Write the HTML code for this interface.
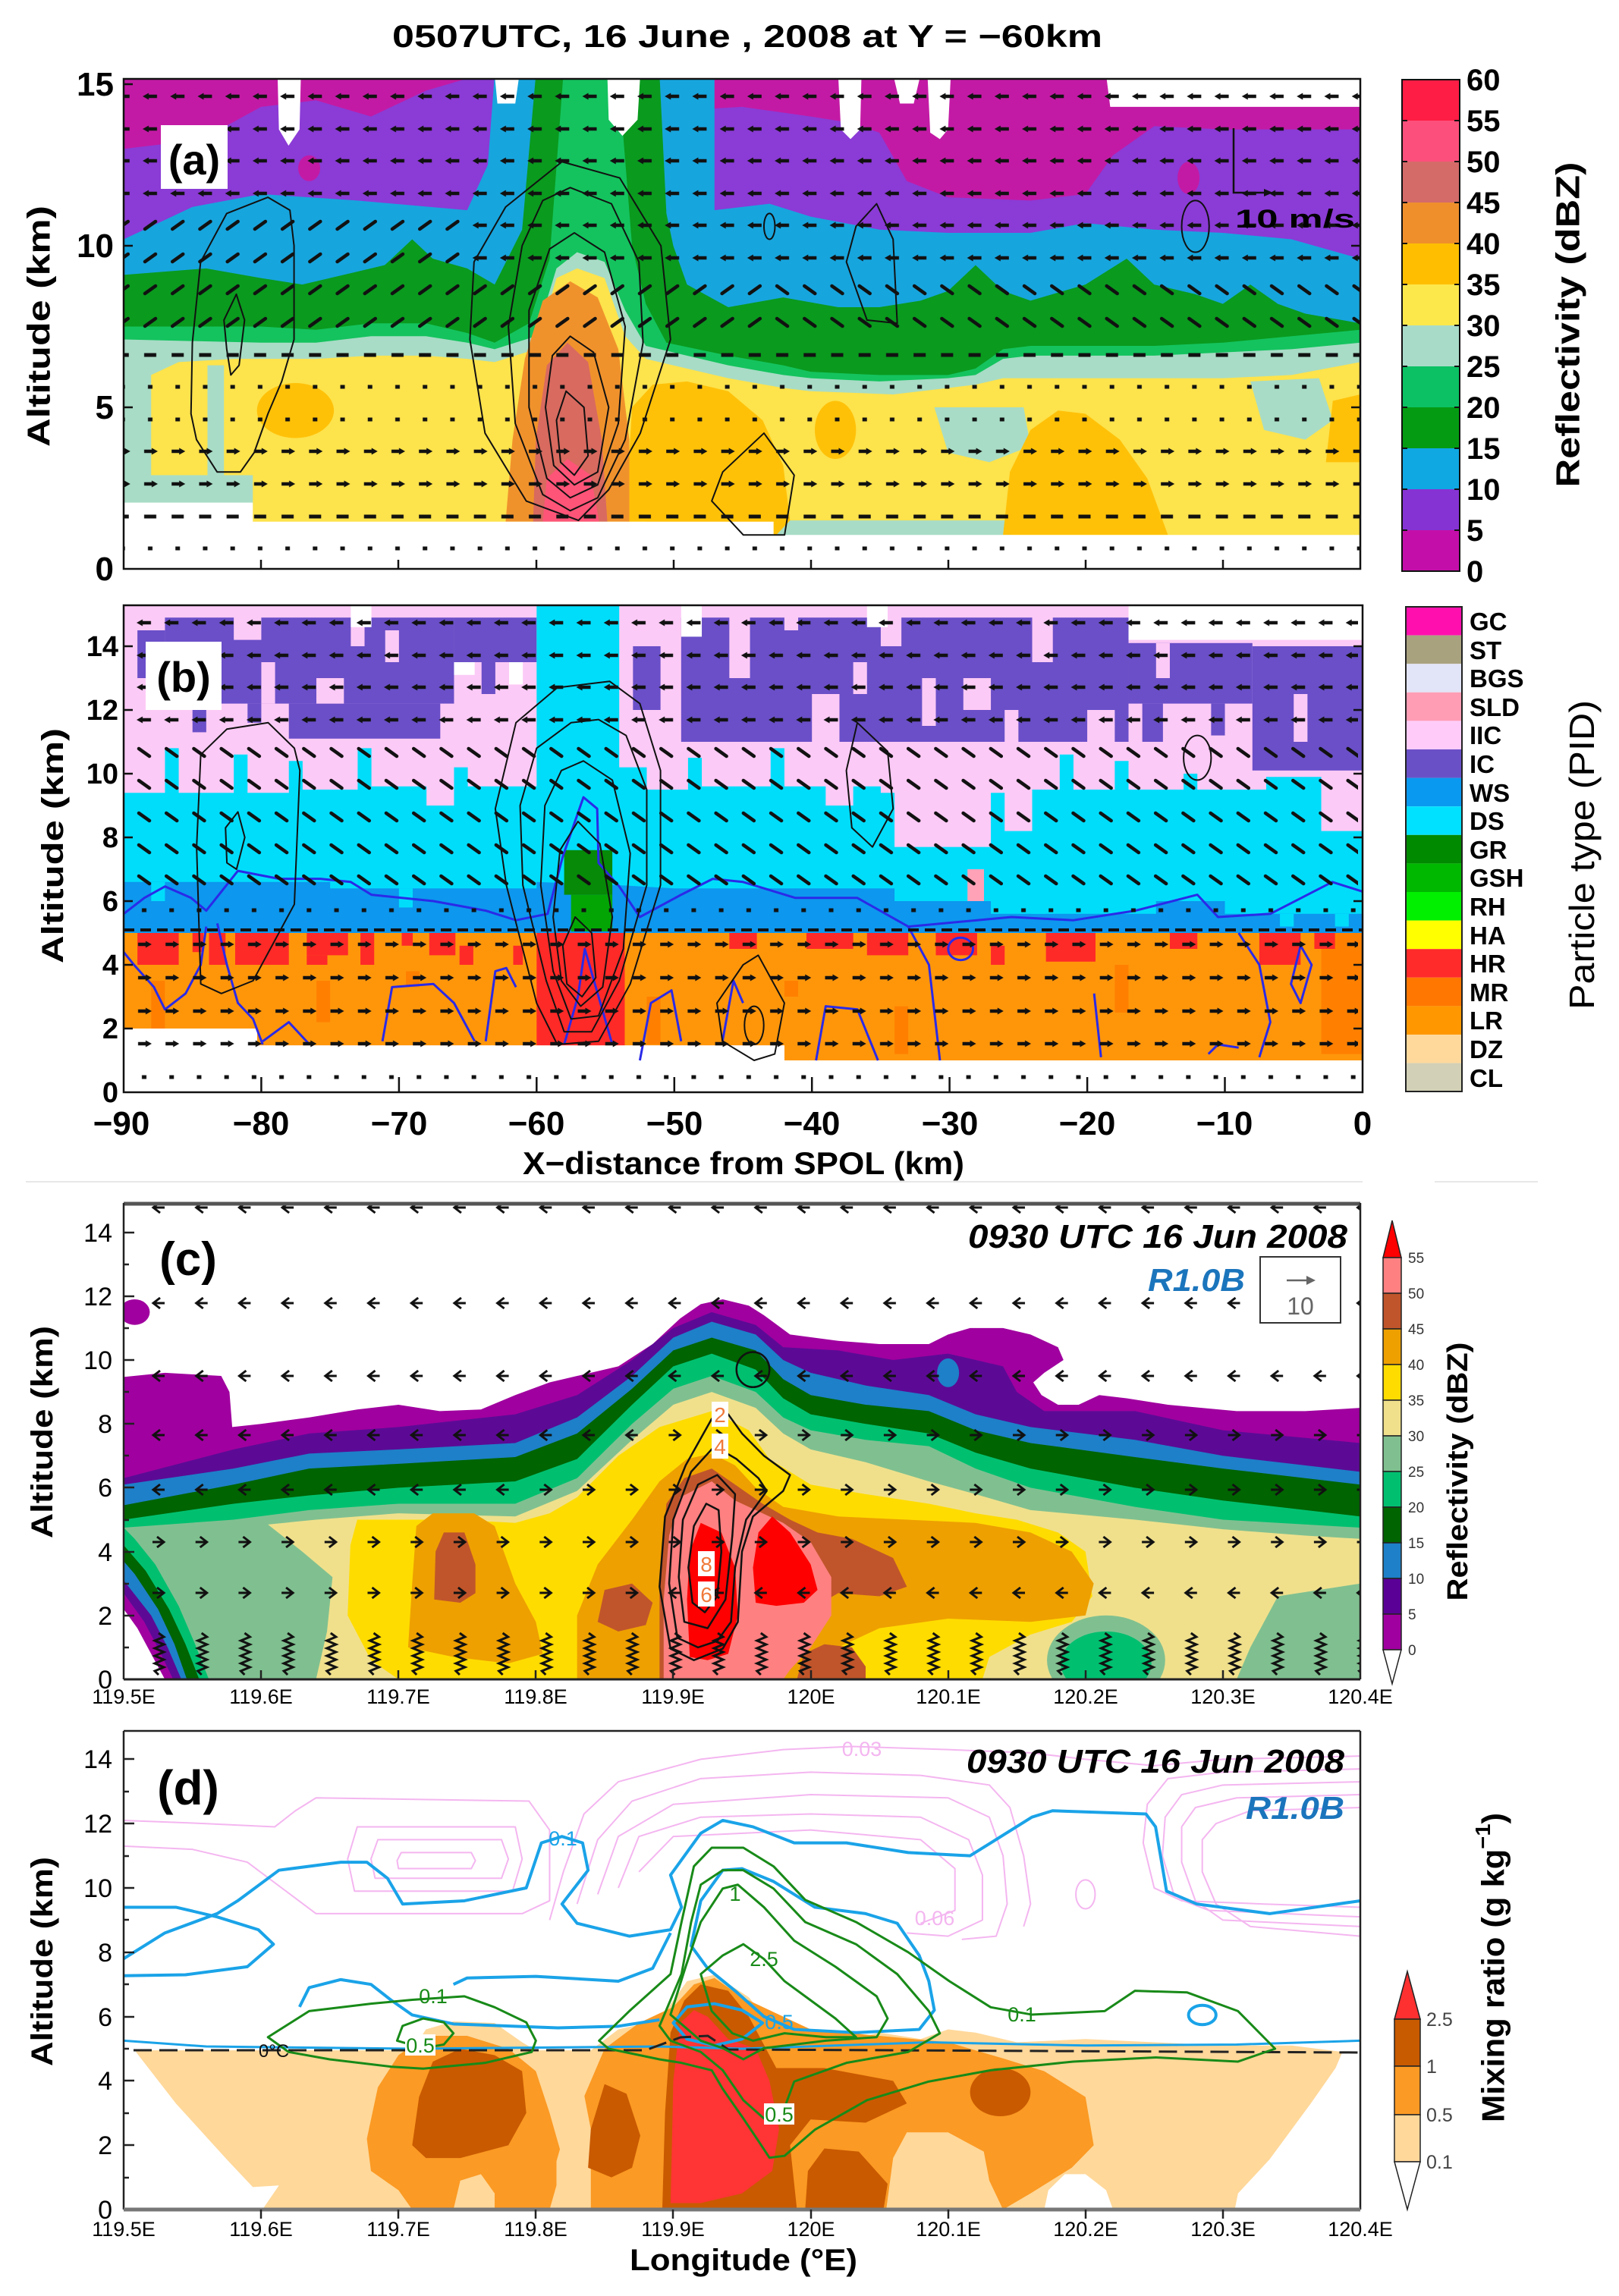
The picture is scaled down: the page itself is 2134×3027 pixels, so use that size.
<!DOCTYPE html>
<html><head><meta charset="utf-8">
<style>
html,body{margin:0;padding:0;background:#fff;}
svg{display:block;}
text{font-family:"Liberation Sans",Arial,sans-serif;}
.nss,.nss *{vector-effect:non-scaling-stroke;}
</style></head><body>
<svg xmlns="http://www.w3.org/2000/svg" width="2134" height="3027" viewBox="0 0 2134 3027">
<defs>
<clipPath id="cA"><rect x="163" y="104" width="1630" height="646"/></clipPath>
<clipPath id="cB"><rect x="163" y="798" width="1633" height="642"/></clipPath>
<clipPath id="cC"><rect x="163" y="1586" width="1630" height="628"/></clipPath>
<clipPath id="cD"><rect x="163" y="2282" width="1630" height="631"/></clipPath>
<pattern id="pL" x="-18.11" y="-10" width="36.22" height="20" patternUnits="userSpaceOnUse"><g transform="translate(18.11,10)"><path d="M-3,0H9" stroke="#111" stroke-width="4.5"/><path d="M-10,0L-2,-4.5L-2,4.5Z" fill="#111"/></g></pattern>
<pattern id="pR" x="-18.11" y="-10" width="36.22" height="20" patternUnits="userSpaceOnUse"><g transform="translate(18.11,10)"><path d="M3,0H-8" stroke="#111" stroke-width="4.5"/><path d="M10,0L2,-4.5L2,4.5Z" fill="#111"/></g></pattern>
<pattern id="pS" x="-18.11" y="-10" width="36.22" height="20" patternUnits="userSpaceOnUse"><g transform="translate(18.11,10)"><path d="M-7,5L7,-5" stroke="#111" stroke-width="4.5" stroke-linecap="round"/></g></pattern>
<pattern id="pB" x="-18.11" y="-10" width="36.22" height="20" patternUnits="userSpaceOnUse"><g transform="translate(18.11,10)"><path d="M-7,-5L7,5" stroke="#111" stroke-width="4.5" stroke-linecap="round"/></g></pattern>
<pattern id="pH" x="-18.11" y="-10" width="36.22" height="20" patternUnits="userSpaceOnUse"><g transform="translate(18.11,10)"><path d="M-8,0H8" stroke="#111" stroke-width="5"/></g></pattern>
<pattern id="pD" x="-18.11" y="-10" width="36.22" height="20" patternUnits="userSpaceOnUse"><g transform="translate(18.11,10)"><rect x="-3" y="-2.5" width="6" height="5" fill="#111"/></g></pattern>
<pattern id="cL" x="-28.35" y="-12" width="56.7" height="24" patternUnits="userSpaceOnUse"><g transform="translate(28.35,12)"><path d="M2,-7L-7,0L2,7M-7,0H8" stroke="#111" stroke-width="3" fill="none"/></g></pattern>
<pattern id="cR" x="-28.35" y="-12" width="56.7" height="24" patternUnits="userSpaceOnUse"><g transform="translate(28.35,12)"><path d="M-2,-7L7,0L-2,7M7,0H-8" stroke="#111" stroke-width="3" fill="none"/></g></pattern>
<pattern id="cZ" x="-28.35" y="0" width="56.7" height="66" patternUnits="userSpaceOnUse"><g transform="translate(28.35,0)"><path d="M0,3l7,5l-12,5l12,5l-12,5l12,5l-12,5l12,5l-12,5l12,5l-12,5l5,5" stroke="#111" stroke-width="3" fill="none"/></g></pattern>
</defs>
<rect width="2134" height="3027" fill="#fff"/>

<!-- TITLE -->
<text x="985" y="62" text-anchor="middle" font-size="42" font-weight="bold" textLength="936" lengthAdjust="spacingAndGlyphs">0507UTC, 16 June , 2008 at Y = −60km</text>

<!-- ================= PANEL A ================= -->
<g clip-path="url(#cA)">
<g transform="translate(163,750) scale(18.111,-42.6)">
<rect x="0" y="0" width="90" height="16" fill="#c31aa5"/>
<polygon fill="#8b3bd6" points="0,0 0,13.0 4,13.2 7,13.6 10,14.3 14,14.5 18,14.0 22,14.8 26,15.3 38,15.3 41,14.2 45,14.3 50,14.0 53,13.8 55,13.5 57,12.0 60,11.5 66,11.4 70,11.6 72,12.8 75,13.7 80,13.6 90,13.6 90,0"/>
<ellipse cx="13.5" cy="12.4" rx="0.8" ry="0.4" fill="#c31aa5"/>
<ellipse cx="40.3" cy="13.2" rx="0.8" ry="0.4" fill="#c31aa5"/>
<ellipse cx="77.5" cy="12.1" rx="0.8" ry="0.5" fill="#c31aa5"/>
<polygon fill="#17a5de" points="0,0 0,10.2 2,10.6 5,11.2 10,11.6 17,11.4 25,11.1 26.5,12.5 27,15.3 43,15.3 43,11.1 47,11.3 50,10.9 55,10.5 60,10.4 66,10.4 70,10.7 75,10.5 80,10.4 85,10.2 90,9.6 90,0"/>
<polygon fill="#0a9a1e" points="0,0 0,9.1 6,9.3 10,9.0 13,8.8 17,9.2 19,9.4 21,10.2 22.5,9.6 25,9.3 27,8.8 29,10.5 30,15.3 39,15.3 39.5,11 40,10 41,8.8 44,8.1 48,8.4 52,8.1 55,8.1 58,8.3 60,8.6 62,9.4 64,8.6 66,8.3 70,8.8 73,9.6 75,8.8 78,8.5 80,8.2 82,8.8 84,8.2 86,7.9 90,7.6 90,0"/>
<polygon fill="#14c35e" points="0,0 0,7.5 10,7.5 14,7.4 18,7.6 22,7.6 25,7.3 27,7.0 29.5,7.6 31,9.6 32,15.3 36,15.3 37,10 38,8.2 39.5,7.0 44,6.6 48,6.3 50,6.1 55,6.0 60,6.0 62,6.2 64,6.8 66,6.9 75,6.9 80,7.0 85,7.2 90,7.4 90,0"/>
<polygon fill="#a8dcc6" points="0,0 0,7.1 10,7.0 14,7.0 18,7.2 22,7.2 25,7.0 27,6.8 30,7.2 31.5,9.3 33,9.8 35,9.5 36.5,8.0 38,6.9 44,6.3 48,6.0 50,5.9 55,5.8 60,5.9 62,6.0 64,6.5 66,6.6 75,6.6 85,6.8 90,7.0 90,0"/>
<polygon fill="#fde34c" points="2,0 2,6.0 4,6.4 8,6.5 14,6.5 18,6.6 22,6.6 25,6.5 27,6.4 30,6.8 31.5,9.0 33,9.3 35,9.0 36.5,7.2 38,6.5 44,5.9 48,5.6 50,5.5 56,5.4 60,5.6 62,5.7 64,5.9 67,5.9 75,5.9 80,5.9 85,6.0 90,6.4 90,0"/>
<rect x="6.1" y="2" width="1.2" height="4.3" fill="#a8dcc6"/>
<rect x="0" y="1.9" width="9.4" height="1.0" fill="#a8dcc6"/>
<polygon fill="#a8dcc6" points="59,5.0 60,3.6 63,3.3 66,3.8 65.5,5.0"/>
<polygon fill="#a8dcc6" points="82,5.8 83,4.3 86,4.0 88,4.6 87,5.9"/>
<rect x="47.3" y="1.0" width="17.3" height="0.5" fill="#a8dcc6"/>
<ellipse cx="12.5" cy="4.9" rx="2.8" ry="0.85" fill="#ffc108"/>
<polygon fill="#ffc108" points="36.5,1.46 37,5.0 38.5,5.7 41,5.8 44,5.5 46.5,4.6 48,3.2 48.5,1.5 47.5,1.05 40,1.05 38,1.46"/>
<ellipse cx="51.8" cy="4.3" rx="1.5" ry="0.9" fill="#ffc108"/>
<polygon fill="#ffc108" points="64,1.05 64.5,3.0 66,4.3 68,4.9 70,4.8 72.5,4.0 74.5,2.8 76,1.05"/>
<polygon fill="#ffc108" points="87.5,3.3 88,5.2 90,5.4 90,3.3"/>
<polygon fill="#f0922c" points="27.8,1.46 28.3,4 29.2,6.5 30.5,8.3 32.5,8.9 34.5,8.4 36,6.8 36.8,4 36.8,1.46"/>
<polygon fill="#d86a60" points="29.8,1.46 30,4 30.8,6.3 32.3,7.0 33.8,6.4 34.8,4 35.2,1.46"/>
<polygon fill="#fe5478" points="30.5,1.46 30.8,2.8 32.3,3.4 34,2.9 34.6,1.46"/>
<polygon fill="#fff" points="0,-1 0,2.05 9.4,2.05 9.4,1.46 47.3,1.46 47.3,1.05 90,1.05 90,-1"/>
<polygon fill="#fff" points="11.2,15.3 11.3,13.6 12.0,13.1 12.8,13.6 12.9,15.3"/>
<polygon fill="#fff" points="27,15.3 27.2,14.4 28.5,14.4 28.8,15.3"/>
<polygon fill="#fff" points="35.2,15.3 35.3,13.9 36.3,13.4 37.4,13.9 37.6,15.3"/>
<polygon fill="#fff" points="52,15.3 52.2,13.6 52.9,13.3 53.6,13.6 53.7,15.3"/>
<polygon fill="#fff" points="56,15.3 56.5,14.4 57.5,14.4 58,15.3"/>
<polygon fill="#fff" points="58.5,15.3 58.7,13.5 59.4,13.3 60,13.6 60.2,15.3"/>
<polygon fill="#fff" points="71.5,15.3 71.8,14.3 90,14.3 90,15.3"/>
</g>
<g class="nss" transform="translate(163,750) scale(18.111,-42.6)" fill="none" stroke="#111" stroke-width="2" stroke-linejoin="round">
<polygon points="6.8,3.0 5.3,4.0 4.9,4.8 5.0,7.0 5.6,9.5 7.5,11.0 10.5,11.5 12.1,11.1 12.4,10.0 12.4,7.1 11.5,5.8 10.5,4.8 9.5,3.6 8.5,3.0"/>
<polygon points="7.5,6.8 7.3,7.7 8.2,8.5 8.8,7.7 8.4,6.3 7.8,6.0"/>
<polygon points="25.5,9.5 27.8,11.2 31.9,12.6 36.1,12.1 39.1,10.0 39.8,7.1 37.6,4.2 35.3,2.45 33.1,1.5 29.3,2.1 26.3,4.2 25.2,7.1"/>
<polygon points="32.5,11.8 35.5,11.3 37.5,9.5 37.8,7 36.5,4 34.5,2.2 32.5,1.8 30.5,2.3 28.5,4.5 28,7.5 29,10 30.5,11.4"/>
<polygon points="32.8,10.4 35,9.8 36.5,7.5 36,4.5 34.5,2.6 32.5,2.2 30.8,2.8 29.5,5 29.5,8 31,9.9"/>
<polygon points="32.5,7.2 34.2,6.7 35.3,5.0 34.5,3.0 32.8,2.6 31.3,3.2 30.7,5.0 31.2,6.6"/>
<polygon points="32.2,5.5 33.5,5.0 33.8,3.5 32.8,2.9 31.8,3.3 31.5,4.6"/>
<polygon points="43.6,3.0 46.6,4.2 48.8,2.9 48.1,1.05 45.1,1.05 42.8,2.1"/>
<polygon points="53.3,10.6 54.8,11.3 56,10.2 56.3,7.6 54.1,7.7 52.6,9.5"/>
<ellipse cx="78" cy="10.6" rx="1" ry="0.8"/>
<ellipse cx="47" cy="10.6" rx="0.4" ry="0.4"/>
</g>
<g transform="translate(198,127)"><rect x="-40" y="-10" width="1640" height="20" fill="url(#pL)"/></g>
<g transform="translate(198,170)"><rect x="-40" y="-10" width="1640" height="20" fill="url(#pL)"/></g>
<g transform="translate(198,212)"><rect x="-40" y="-10" width="1640" height="20" fill="url(#pL)"/></g>
<g transform="translate(198,255)"><rect x="-40" y="-10" width="1640" height="20" fill="url(#pL)"/></g>
<g transform="translate(198,297)"><rect x="-40" y="-10" width="456.5" height="20" fill="url(#pS)"/><rect x="416.5" y="-10" width="1200" height="20" fill="url(#pL)"/></g>
<g transform="translate(198,340)"><rect x="-40" y="-10" width="456.5" height="20" fill="url(#pS)"/><rect x="416.5" y="-10" width="1200" height="20" fill="url(#pL)"/></g>
<g transform="translate(198,382)"><rect x="-40" y="-10" width="854" height="20" fill="url(#pS)"/><rect x="814" y="-10" width="800" height="20" fill="url(#pB)"/></g>
<g transform="translate(198,425)"><rect x="-40" y="-10" width="854" height="20" fill="url(#pS)"/><rect x="814" y="-10" width="800" height="20" fill="url(#pB)"/></g>
<g transform="translate(198,468)"><rect x="-40" y="-10" width="1640" height="20" fill="url(#pH)"/></g>
<g transform="translate(198,510)"><rect x="-40" y="-10" width="1640" height="20" fill="url(#pD)"/></g>
<g transform="translate(198,553)"><rect x="-40" y="-10" width="1640" height="20" fill="url(#pD)"/></g>
<g transform="translate(198,595)"><rect x="-40" y="-10" width="1640" height="20" fill="url(#pR)"/></g>
<g transform="translate(198,638)"><rect x="-40" y="-10" width="1640" height="20" fill="url(#pR)"/></g>
<g transform="translate(198,681)"><rect x="-40" y="-10" width="1640" height="20" fill="url(#pH)"/></g>
<g transform="translate(198,723)"><rect x="-40" y="-10" width="1640" height="20" fill="url(#pD)"/></g>
</g>
<rect x="212" y="165" width="88" height="84" fill="#fff"/>
<text x="256" y="230" text-anchor="middle" font-size="56" font-weight="bold">(a)</text>
<path d="M1626,169V254H1668" fill="none" stroke="#111" stroke-width="2.5"/>
<path d="M1678,254L1666,249L1666,259Z" fill="#111"/>
<text x="1628" y="300" font-size="34" font-weight="bold" textLength="158" lengthAdjust="spacingAndGlyphs">10 m/s</text>
<rect x="163" y="104" width="1630" height="646" fill="none" stroke="#111" stroke-width="2.5"/>
<g stroke="#111" stroke-width="2.5">
<path d="M344,750v-12M525,750v-12M707,750v-12M888,750v-12M1069,750v-12M1250,750v-12M1431,750v-12M1612,750v-12"/>
<path d="M163,537h12M163,324h12M163,111h12M1793,537h-12M1793,324h-12"/>
</g>
<g font-size="44" font-weight="bold" text-anchor="end">
<text x="150" y="126">15</text><text x="150" y="339">10</text><text x="150" y="552">5</text><text x="150" y="765">0</text>
</g>
<text transform="translate(51,430) rotate(-90)" text-anchor="middle" dominant-baseline="central" font-size="42" font-weight="bold" textLength="318" lengthAdjust="spacingAndGlyphs">Altitude (km)</text>
<g>
<rect x="1848" y="105" width="76" height="54" fill="#fe1d45"/>
<rect x="1848" y="159" width="76" height="54" fill="#fd4f7b"/>
<rect x="1848" y="213" width="76" height="54" fill="#d46b69"/>
<rect x="1848" y="267" width="76" height="54" fill="#ef8f2c"/>
<rect x="1848" y="321" width="76" height="54" fill="#ffbf00"/>
<rect x="1848" y="375" width="76" height="54" fill="#fde84c"/>
<rect x="1848" y="429" width="76" height="54" fill="#a9dbc9"/>
<rect x="1848" y="483" width="76" height="54" fill="#0cc163"/>
<rect x="1848" y="537" width="76" height="54" fill="#049b13"/>
<rect x="1848" y="591" width="76" height="54" fill="#0fa8e2"/>
<rect x="1848" y="645" width="76" height="54" fill="#8633d4"/>
<rect x="1848" y="699" width="76" height="54" fill="#c30ea9"/>
<rect x="1848" y="105" width="76" height="648" fill="none" stroke="#111" stroke-width="2"/>
<path d="M1848,159h7M1848,213h7M1848,267h7M1848,321h7M1848,375h7M1848,429h7M1848,483h7M1848,537h7M1848,591h7M1848,645h7M1848,699h7M1924,159h-7M1924,213h-7M1924,267h-7M1924,321h-7M1924,375h-7M1924,429h-7M1924,483h-7M1924,537h-7M1924,591h-7M1924,645h-7M1924,699h-7" stroke="#111" stroke-width="2"/>
</g>
<g font-size="40" font-weight="bold">
<text x="1933" y="119">60</text><text x="1933" y="173">55</text><text x="1933" y="227">50</text><text x="1933" y="281">45</text><text x="1933" y="335">40</text><text x="1933" y="389">35</text><text x="1933" y="443">30</text><text x="1933" y="497">25</text><text x="1933" y="551">20</text><text x="1933" y="605">15</text><text x="1933" y="659">10</text><text x="1933" y="713">5</text><text x="1933" y="767">0</text>
</g>
<text transform="translate(2067,428) rotate(-90)" text-anchor="middle" dominant-baseline="central" font-size="44" font-weight="bold" textLength="429" lengthAdjust="spacingAndGlyphs">Reflectivity (dBZ)</text>

<!-- ================= PANEL B ================= -->
<g clip-path="url(#cB)">
<g transform="translate(163,1440) scale(18.144,-42.0)">
<rect x="0" y="1" width="90" height="15" fill="#fccaf6"/>
<g fill="#6a4fc8">
<rect x="3" y="12.2" width="21" height="2.8"/>
<rect x="12" y="11.1" width="11" height="1.1"/>
<rect x="24" y="13.5" width="6" height="1.5"/>
<rect x="40.5" y="11.0" width="32.5" height="4.0"/>
<rect x="73" y="12.2" width="9" height="1.9"/>
<rect x="82" y="10.1" width="8" height="3.9"/>
<rect x="1" y="13" width="2" height="1.5"/>
<rect x="5" y="11.3" width="1" height="0.9"/>
<rect x="30.5" y="14.2" width="1" height="0.8"/>
<rect x="37" y="12" width="2" height="2"/>
<rect x="74" y="11" width="1.5" height="1.2"/>
<rect x="79" y="11.2" width="1" height="1"/>
<rect x="26" y="12.5" width="1" height="1"/>
<rect x="9" y="11.6" width="1" height="0.6"/>
</g>
<g fill="#fccaf6">
<rect x="8" y="14.2" width="2" height="0.8"/><rect x="14" y="12.2" width="2" height="0.8"/><rect x="19" y="13.5" width="1" height="1"/><rect x="6" y="12.8" width="1" height="1"/><rect x="10" y="12.2" width="1" height="1.3"/><rect x="16.5" y="14" width="1" height="1"/>
<rect x="44" y="13" width="1.5" height="2"/><rect x="50" y="11" width="2" height="1.5"/><rect x="55" y="14" width="1.5" height="1"/><rect x="61" y="12" width="2" height="1"/><rect x="66" y="13.5" width="1.5" height="1.5"/><rect x="70" y="11" width="2" height="1"/><rect x="48" y="14.5" width="1" height="0.5"/><rect x="58" y="11.5" width="1" height="1.5"/><rect x="64" y="11" width="1" height="1"/><rect x="53" y="12.5" width="1" height="1"/><rect x="75" y="13" width="1" height="1.1"/><rect x="85" y="11" width="1" height="1.5"/>
<rect x="0" y="14.9" width="90" height="0.5"/>
</g>
<g fill="#fff">
<rect x="73" y="14.2" width="17" height="1.2"/><rect x="28" y="12.8" width="1" height="0.7"/><rect x="24" y="13.1" width="1.5" height="0.4"/><rect x="16.5" y="14.6" width="1.5" height="0.8"/><rect x="40.5" y="14.3" width="1.5" height="1"/><rect x="54" y="14.6" width="1.5" height="0.8"/>
</g>
<polygon fill="#00ddfb" points="0,5 0,9.4 3,9.4 3,10.8 4,10.8 4,9.4 8,9.4 8,10.6 9,10.6 9,9.4 12,9.4 12,10.4 13,10.4 13,9.5 17,9.5 17,10.8 18,10.8 18,9.6 22,9.6 22,9.0 24,9.0 24,10.2 25,10.2 25,9.6 30,9.6 30,15.4 36,15.4 36,10.2 38,10.2 38,9.5 41,9.5 41,10.5 42,10.5 42,9.6 47,9.6 47,10.8 48,10.8 48,9.6 51,9.6 51,9.0 53,9.0 53,9.6 55,9.6 55,9.4 56,9.4 56,7.7 63,7.7 63,9.4 64,9.4 64,8.2 66,8.2 66,9.5 68,9.5 68,10.6 69,10.6 69,9.5 72,9.5 72,10.4 73,10.4 73,9.5 77,9.5 77,10.0 78,10.0 78,9.5 83,9.5 83,9.9 87,9.9 87,8.2 90,8.2 90,5"/>
<polygon fill="#0d97ee" points="0,5.0 0,6.6 15,6.6 15,6.4 30,6.4 30,6.6 36,6.5 40,6.4 56,6.4 56,6.0 63,6.0 63,5.6 75,5.6 75,6.0 80,6.0 80,5.6 90,5.6 90,5.0"/>
<g fill="#00ddfb"><rect x="2" y="6.0" width="1" height="0.6"/><rect x="20" y="5.8" width="1" height="0.6"/><rect x="66" y="5.6" width="1" height="0.5"/><rect x="84" y="5.2" width="1" height="0.4"/><rect x="88" y="5.2" width="1" height="0.4"/></g>
<rect x="32" y="6.2" width="3.5" height="1.4" fill="#078a07"/>
<rect x="32.5" y="5.05" width="3" height="1.15" fill="#03a505"/>
<rect x="61.3" y="6.0" width="1.2" height="1.0" fill="#ffa2b8"/>
<polygon fill="#ff960a" points="0,2.0 9.7,2.0 9.7,1.47 48,1.47 48,1.0 90,1.0 90,5.0 0,5.0"/>
<g fill="#ff8000">
<rect x="2" y="2" width="1" height="1.5"/><rect x="14" y="2.2" width="1" height="1.3"/><rect x="38" y="1.5" width="1" height="1.5"/><rect x="56" y="1.2" width="1" height="1.5"/><rect x="72" y="2.5" width="1" height="1.5"/><rect x="20.5" y="3.3" width="1" height="0.5"/><rect x="48" y="3" width="1" height="0.5"/><rect x="87" y="1.2" width="3" height="3.8"/>
</g>
<g fill="#fe2a28">
<rect x="1" y="4.0" width="3" height="1.0"/><rect x="5" y="4.4" width="0.8" height="0.6"/><rect x="6.2" y="4.0" width="1.2" height="1.0"/><rect x="8.1" y="4.0" width="3.9" height="1.0"/><rect x="13.3" y="4.3" width="3" height="0.7"/><rect x="13.3" y="4.0" width="1.5" height="0.3"/><rect x="17.2" y="4.0" width="1" height="1.0"/><rect x="20.2" y="4.6" width="0.8" height="0.4"/><rect x="22.2" y="4.3" width="1.9" height="0.7"/><rect x="24.4" y="4.0" width="1" height="0.6"/><rect x="28.3" y="4.0" width="0.7" height="0.6"/>
<rect x="30" y="1.47" width="6.4" height="3.53"/><rect x="44" y="4.5" width="2" height="0.5"/><rect x="49.6" y="4.5" width="3.4" height="0.5"/><rect x="54" y="4.3" width="3" height="0.7"/><rect x="59" y="4.3" width="3" height="0.7"/><rect x="63" y="4.0" width="1" height="0.6"/><rect x="67" y="4.1" width="3.6" height="0.9"/><rect x="76" y="4.5" width="2" height="0.5"/><rect x="82.5" y="4.0" width="3" height="1.0"/><rect x="86.5" y="4.5" width="1.5" height="0.5"/>
</g>
<polygon fill="#fff" points="0,-1 0,2.0 9.7,2.0 9.7,1.47 48,1.47 48,1.0 90,1.0 90,-1"/>
</g>
<g class="nss" transform="translate(163,1440) scale(18.144,-42.0)" fill="none" stroke="#2a2ae8" stroke-width="3" stroke-linejoin="round">
<polyline points="0,5.6 1.5,6.1 3,6.46 4.9,6.1 6,5.7 8.3,6.95 11.3,6.7 14.3,6.7 16.5,6.6 18,6.2 22.5,6.0 26.3,5.7 28.5,5.4 30.8,5.6 31.9,7.4 33.4,9.26 34.4,8.9 34.5,7.2 36,6.46 37.5,5.5 40.5,6.2 42.8,6.7 45,6.6 48.8,6.1 53.3,6.1 57,5.2 64.5,5.5 69,5.4 73.5,5.7 78,6.2 79.5,5.5 83.3,5.6 87.8,6.6 90,6.3"/>
<polyline points="0,4.4 0.75,4.0 2.2,3.3 3,2.6 4.5,3.1 5.6,4.0 6,5.2"/>
<polyline points="10.1,1.5 9.4,2.3 8.3,2.8 7.5,4.0 6.8,5.3"/>
<polyline points="10.1,1.6 12,2.2 13.5,1.5"/>
<polyline points="18.8,1.6 19.5,3.3 22.5,3.4 24,2.8 25.5,1.6"/>
<polyline points="26.3,1.6 27,3.8 27.8,3.9 28.5,3.3"/>
<polyline points="37.5,1.0 38.3,2.8 39.8,3.2 40.5,1.6"/>
<polyline points="43.5,1.6 44.3,3.5 45,2.8"/>
<polyline points="50.3,1.0 51,2.7 53.3,2.6 54.8,1.0"/>
<polyline points="57,5.2 58.5,4.0 59.3,1.0"/>
<ellipse cx="60.8" cy="4.5" rx="0.9" ry="0.35"/>
<polyline points="70.5,3.1 71,1.1"/>
<polyline points="81,5.0 82.5,4.0 83.3,2.2 82.5,1.1"/>
<polyline points="78.8,1.2 79.5,1.5 81,1.4"/>
<polygon points="84.8,3.4 85.5,4.6 86.3,4.0 85.5,2.8"/>
<polyline points="32,1.5 33,3 33.5,4.5 34.5,3.0 35.5,1.5"/>
</g>
<g class="nss" transform="translate(163,1440) scale(18.144,-42.0)" fill="none" stroke="#111" stroke-width="2" stroke-linejoin="round">
<polygon points="5.6,3.4 5.3,7.7 5.6,10.6 7.5,11.4 10.5,11.6 12.4,10.8 12.8,10.1 12.4,5.9 9.4,3.5 7.1,3.1"/>
<polygon points="7.5,7.2 7.4,8.3 8.3,8.8 8.8,8.0 8.2,7.0"/>
<polygon points="35.3,12.9 37.5,12.2 39,10.1 39,6.5 36.8,3.4 34.5,1.6 31.5,1.5 30,2.8 27.8,6.5 27,8.9 28.5,11.6 31.5,12.7"/>
<polygon points="34.5,11.7 36.5,11.2 38,9.5 38,6.5 36,3.5 34,1.9 32,1.9 30.7,3.5 29,6.5 28.8,9.0 30,10.8 32.5,11.6"/>
<polygon points="33.4,10.4 35.5,9.8 36.8,7.5 36.3,4.5 34.5,2.4 32.5,2.3 31.2,3.8 30.3,6.5 30.6,9.0 31.8,10.1"/>
<polygon points="33,8.5 34.6,7.8 35.5,5.5 34.8,3.3 33.2,2.7 31.8,3.5 31.2,5.5 31.7,7.6"/>
<polygon points="32.8,5.5 34,5.0 34.3,3.6 33.3,3.0 32.2,3.4 31.9,4.6"/>
<polygon points="43.1,2.8 45,4.0 46.1,4.3 48,2.8 47.3,1.2 45.8,1.0 43.5,1.6"/>
<ellipse cx="45.8" cy="2.1" rx="0.7" ry="0.6"/>
<polygon points="53.3,11.6 55.5,10.7 55.9,8.9 54.4,7.7 52.9,8.3 52.5,10.1"/>
<ellipse cx="78" cy="10.5" rx="1.0" ry="0.7"/>
</g>
<path d="M163,1226H1796" stroke="#111" stroke-width="4" stroke-dasharray="14 8"/>
<g transform="translate(190,821)"><rect x="-40" y="-10" width="1640" height="20" fill="url(#pL)"/></g>
<g transform="translate(190,864)"><rect x="-40" y="-10" width="1640" height="20" fill="url(#pL)"/></g>
<g transform="translate(190,906)"><rect x="-40" y="-10" width="1640" height="20" fill="url(#pL)"/></g>
<g transform="translate(190,949)"><rect x="-40" y="-10" width="1640" height="20" fill="url(#pL)"/></g>
<g transform="translate(190,992)"><rect x="-40" y="-10" width="1640" height="20" fill="url(#pB)"/></g>
<g transform="translate(190,1034)"><rect x="-40" y="-10" width="1640" height="20" fill="url(#pB)"/></g>
<g transform="translate(190,1077)"><rect x="-40" y="-10" width="1640" height="20" fill="url(#pB)"/></g>
<g transform="translate(190,1119)"><rect x="-40" y="-10" width="1640" height="20" fill="url(#pB)"/></g>
<g transform="translate(190,1160)"><rect x="-40" y="-10" width="1640" height="20" fill="url(#pB)"/></g>
<g transform="translate(190,1200)"><rect x="-40" y="-10" width="1640" height="20" fill="url(#pD)"/></g>
<g transform="translate(190,1245)"><rect x="-40" y="-10" width="1640" height="20" fill="url(#pR)"/></g>
<g transform="translate(190,1289)"><rect x="-40" y="-10" width="1640" height="20" fill="url(#pR)"/></g>
<g transform="translate(190,1333)"><rect x="-40" y="-10" width="1640" height="20" fill="url(#pR)"/></g>
<g transform="translate(190,1376)"><rect x="-40" y="-10" width="1640" height="20" fill="url(#pR)"/></g>
<g transform="translate(190,1420)"><rect x="-40" y="-10" width="1640" height="20" fill="url(#pD)"/></g>
</g>
<rect x="192" y="846" width="100" height="90" fill="#fff"/>
<text x="242" y="912" text-anchor="middle" font-size="56" font-weight="bold">(b)</text>
<rect x="163" y="798" width="1633" height="642" fill="none" stroke="#111" stroke-width="2.5"/>
<g stroke="#111" stroke-width="2.5">
<path d="M344.4,1440v-20M525.9,1440v-20M707.3,1440v-20M888.8,1440v-20M1070.2,1440v-20M1251.6,1440v-20M1433.1,1440v-20M1614.5,1440v-20"/>
<path d="M163,1356h12M163,1272h12M163,1188h12M163,1104h12M163,1020h12M163,936h12M163,852h12M1796,1356h-12M1796,1272h-12M1796,1188h-12M1796,1104h-12M1796,1020h-12M1796,936h-12M1796,852h-12"/>
</g>
<g font-size="38" font-weight="bold" text-anchor="end">
<text x="156" y="1453">0</text><text x="156" y="1369">2</text><text x="156" y="1285">4</text><text x="156" y="1201">6</text><text x="156" y="1117">8</text><text x="156" y="1033">10</text><text x="156" y="949">12</text><text x="156" y="865">14</text>
</g>
<g font-size="44" font-weight="bold" text-anchor="middle">
<text x="160" y="1496">−90</text><text x="344" y="1496">−80</text><text x="526" y="1496">−70</text><text x="707" y="1496">−60</text><text x="889" y="1496">−50</text><text x="1070" y="1496">−40</text><text x="1252" y="1496">−30</text><text x="1433" y="1496">−20</text><text x="1614" y="1496">−10</text><text x="1796" y="1496">0</text>
</g>
<text x="980" y="1548" text-anchor="middle" font-size="42" font-weight="bold" textLength="582" lengthAdjust="spacingAndGlyphs">X−distance from SPOL (km)</text>
<text transform="translate(70,1115) rotate(-90)" text-anchor="middle" dominant-baseline="central" font-size="40" font-weight="bold" textLength="310" lengthAdjust="spacingAndGlyphs">Altitude (km)</text>
<g>
<rect x="1853" y="800" width="74" height="37.6" fill="#ff10ae"/>
<rect x="1853" y="837.6" width="74" height="37.6" fill="#a9a27f"/>
<rect x="1853" y="875.2" width="74" height="37.6" fill="#e2e4f7"/>
<rect x="1853" y="912.8" width="74" height="37.6" fill="#ff9db5"/>
<rect x="1853" y="950.4" width="74" height="37.6" fill="#ffccf9"/>
<rect x="1853" y="988" width="74" height="37.6" fill="#6a50c7"/>
<rect x="1853" y="1025.6" width="74" height="37.6" fill="#0a99f0"/>
<rect x="1853" y="1063.2" width="74" height="37.6" fill="#00e1ff"/>
<rect x="1853" y="1100.8" width="74" height="37.6" fill="#008a00"/>
<rect x="1853" y="1138.4" width="74" height="37.6" fill="#00b800"/>
<rect x="1853" y="1176" width="74" height="37.6" fill="#00f000"/>
<rect x="1853" y="1213.6" width="74" height="37.6" fill="#ffff00"/>
<rect x="1853" y="1251.2" width="74" height="37.6" fill="#ff2a2a"/>
<rect x="1853" y="1288.8" width="74" height="37.6" fill="#ff7700"/>
<rect x="1853" y="1326.4" width="74" height="37.6" fill="#ff9800"/>
<rect x="1853" y="1364" width="74" height="37.6" fill="#ffd99c"/>
<rect x="1853" y="1401.6" width="74" height="37.6" fill="#d2d0b6"/>
<rect x="1853" y="800" width="74" height="639" fill="none" stroke="#222" stroke-width="2"/>
</g>
<g font-size="33" font-weight="bold">
<text x="1937" y="831">GC</text><text x="1937" y="869">ST</text><text x="1937" y="906">BGS</text><text x="1937" y="944">SLD</text><text x="1937" y="981">IIC</text><text x="1937" y="1019">IC</text><text x="1937" y="1057">WS</text><text x="1937" y="1094">DS</text><text x="1937" y="1132">GR</text><text x="1937" y="1169">GSH</text><text x="1937" y="1207">RH</text><text x="1937" y="1245">HA</text><text x="1937" y="1282">HR</text><text x="1937" y="1320">MR</text><text x="1937" y="1357">LR</text><text x="1937" y="1395">DZ</text><text x="1937" y="1433">CL</text>
</g>
<text transform="translate(2085,1127) rotate(-90)" text-anchor="middle" dominant-baseline="central" font-size="46" textLength="408" lengthAdjust="spacingAndGlyphs">Particle type (PID)</text>

<path d="M34,1558H1796M1891,1558H2027" stroke="#e8e8e8" stroke-width="2"/>

<!-- ================= PANEL C ================= -->
<g clip-path="url(#cC)">
<g transform="translate(163,2214) scale(18.111,-42.1)">
<ellipse cx="0.8" cy="11.5" rx="1.1" ry="0.4" fill="#a0009f"/>
<polygon fill="#a0009f" points="0,9.47 3,9.6 7.1,9.5 7.7,9.0 7.9,7.9 10,8.0 13.5,8.2 17,8.45 20,8.6 23,8.4 26,8.45 28.5,8.9 31,9.3 33,9.5 36,9.8 38.5,10.5 40.5,11.3 42,11.75 43.6,11.9 45.5,11.7 46.6,11.4 48.5,10.8 52,10.6 55,10.5 58.6,10.5 60,10.8 61.6,11.0 64,11.0 66,10.8 68,10.4 68.4,10.0 67,9.6 66.2,9.3 66.8,8.9 68,8.6 69.5,8.6 71,8.9 73,8.8 76,8.6 81,8.4 86,8.4 90,8.5 90,0 3.0,0 2.0,0.8 1.0,1.6 0,2.2"/>
<polygon fill="#5c0a96" points="0,6.3 8,7.2 13.5,7.7 20,7.9 28.5,8.3 33,8.9 37,10.0 40,11.0 42.8,11.5 46,11.1 48,10.4 52,10.3 56,10.0 60,10.2 64,9.8 65,9.0 67,8.4 73.6,8.4 80,7.8 90,7.4 90,0 3.6,0 2.6,0.9 1.5,1.8 0,2.7"/>
<ellipse cx="60" cy="9.6" rx="0.8" ry="0.45" fill="#1e80c8"/>
<polygon fill="#1e80c8" points="0,6.1 8,6.6 13.5,7.07 20,7.2 28.5,7.4 33,8.2 37,9.5 40,10.7 42.8,11.2 46,10.8 48,10.0 50,9.6 54,9.2 58.6,8.9 62,8.3 66,7.9 73.6,7.5 80,7.0 90,6.5 90,0 4.2,0 3.2,1 2.0,2.0 0,3.1"/>
<polygon fill="#006400" points="0,5.45 8,6.1 13.5,6.6 20,6.75 28.5,6.96 33,7.7 37,9.1 40,10.3 42.8,10.7 46,10.3 48,9.4 50,8.9 54,8.6 58.6,8.4 62,7.8 66,7.4 73.6,6.96 80,6.6 90,6.1 90,0 4.6,0 3.7,1.1 2.5,2.2 0.8,3.3 0,3.7"/>
<polygon fill="#00c070" points="0,5.0 8,5.5 13.5,5.76 20,6.0 28.5,6.2 33,6.9 37,8.6 40,9.8 42.8,10.2 46,9.7 48,8.8 50,8.3 54,8.0 58.6,7.7 62,7.1 66,6.6 73.6,6.0 80,5.6 90,5.1 90,0 5.5,0 4.5,1.1 3.3,2.2 1.6,3.4 0,4.2"/>
<polygon fill="#80c090" points="0,4.75 8,5.0 13.5,5.3 20,5.5 28.5,5.5 33,6.3 37,8.0 40,9.1 42.8,9.5 46,9.0 48,8.2 50,7.8 54,7.5 58.6,7.3 62,6.6 66,6.0 73.6,5.4 80,5.0 90,4.75 90,0 6.2,0 5.2,1.1 4,2.3 2.3,3.6 0.8,4.4"/>
<polygon fill="#f0e08c" points="10.5,4.85 14,5.0 20,5.2 28.5,5.1 33,5.9 37,7.5 40,8.6 42.8,9.0 46,8.5 48,7.7 50,7.2 54,6.8 58.6,6.2 62,5.8 66,5.3 73.6,5.0 80,4.7 86,4.5 90,4.4 90,3.0 84,2.6 82,1.0 81,0 14,0 14.8,1.5 15.2,3.2 13,4.0"/>
<ellipse cx="71.5" cy="0.6" rx="4.3" ry="1.4" fill="#80c090"/>
<ellipse cx="71.5" cy="0.5" rx="3.3" ry="1.0" fill="#00c070"/>
<polygon fill="#ffdc00" points="16.5,4.2 17,5.0 20,5.0 24,5.0 28.5,4.9 31,5.2 33,5.7 36,7.0 39,7.9 42.8,8.4 45.5,7.8 47,6.9 50,6.1 54,5.8 58.6,5.5 62,5.2 65,5.0 68,4.6 70,4.0 70.5,2.6 69,1.8 66,1.4 63,0.7 62.5,0 20,0 18,0.6 16.3,2.0"/>
<polygon fill="#eea000" points="20.7,1.0 21,3.0 21.3,4.8 22.5,5.2 25.5,5.2 27,4.8 28.5,3.0 30,1.8 30.5,0.8 28,0.5 24,0.7"/>
<polygon fill="#eea000" points="33,0 33,2 34.5,3.6 37,5.0 39,6.2 41,6.9 42.8,7.07 44.5,6.7 46,6.0 48,5.4 52,5.1 57,5.0 62,4.9 66,4.6 69,4.0 70.6,3.0 70,2.0 66,1.8 60,1.9 55,1.6 52,1.0 51,0"/>
<polygon fill="#c0552b" points="22.6,2.5 22.7,4.0 23.3,4.6 24.8,4.6 25.6,3.6 25.6,2.7 24.5,2.4"/>
<polygon fill="#c0552b" points="34.5,1.8 35,2.8 37,3.0 38.5,2.4 38,1.7 36,1.5"/>
<polygon fill="#c0552b" points="39,0 39,3 39.5,5.5 40.8,6.3 42.8,6.6 44.5,6.1 46.5,5.5 48.5,5.0 50.5,4.6 53,4.4 56,3.8 57,2.9 55,2.6 52,2.7 50,2.2 48.5,1.2 48,0"/>
<polygon fill="#c0552b" points="49,0 49.5,0.8 51,1.1 53,1.0 54,0.4 54,0"/>
<polygon fill="#ff8080" points="39.3,0 39.3,2.5 39.7,4.5 40.5,5.7 42.8,6.2 44.5,5.6 46,5.3 48,4.9 50,4.3 51.5,3.2 51.5,2.0 50,1.0 48.5,0.3 48,0"/>
<polygon fill="#ff0000" points="41.2,0.7 41.0,2.5 41.2,4.0 42,4.9 43.5,4.6 44.5,3.5 44.7,2.0 44,0.8 42.5,0.6"/>
<polygon fill="#ff0000" points="46,2.4 45.8,3.5 46.2,4.6 47.2,5.1 48.5,4.6 50,3.6 50.5,2.8 49.5,2.4 47.5,2.3"/>
</g>
<g class="nss" transform="translate(163,2214) scale(18.111,-42.1)" fill="none" stroke="#111" stroke-width="2.5" stroke-linejoin="round">
<polygon points="39.8,0.96 39,2.9 39.4,5.1 40.9,6.7 42.8,8.16 44,8.3 45,7.7 46.6,7.0 48.5,6.4 48,5.9 45.8,5.1 45,4.0 44.7,1.8 43.6,0.96 41.5,0.6"/>
<polygon points="40.3,1.3 39.7,3 40,5 41.3,6.5 43,7.3 44.6,6.9 46.2,6.3 46.8,5.9 45.3,5.0 44.5,3.5 44.2,1.8 43.2,1.2 41.8,1.0"/>
<polygon points="40.8,1.8 40.4,3.2 40.7,5.0 41.8,6.1 43.2,6.4 44.5,5.8 44.3,4.5 43.8,2.5 42.5,1.6"/>
<polygon points="41.4,2.4 41.1,3.5 41.5,4.8 42.4,5.5 43.3,5.3 43.5,4.0 43.2,2.6 42.3,2.1"/>
<ellipse cx="45.8" cy="9.7" rx="1.2" ry="0.55"/>
</g>
<g transform="translate(209,1592)"><rect x="-40" y="-12" width="1640" height="24" fill="url(#cL)"/></g>
<g transform="translate(209,1718)"><rect x="-40" y="-12" width="1640" height="24" fill="url(#cL)"/></g>
<g transform="translate(209,1814)"><rect x="-40" y="-12" width="1640" height="24" fill="url(#cL)"/></g>
<g transform="translate(209,1892)"><rect x="-40" y="-12" width="708" height="24" fill="url(#cL)"/><rect x="651.9" y="-12" width="1000" height="24" fill="url(#cR)"/></g>
<g transform="translate(209,1964)"><rect x="-40" y="-12" width="538" height="24" fill="url(#cL)"/><rect x="481.9" y="-12" width="1200" height="24" fill="url(#cR)"/></g>
<g transform="translate(209,2033)"><rect x="-40" y="-12" width="1640" height="24" fill="url(#cR)"/></g>
<g transform="translate(209,2100)"><rect x="-40" y="-12" width="708" height="24" fill="url(#cR)"/><rect x="651.9" y="-12" width="1000" height="24" fill="url(#cL)"/></g>
<g transform="translate(209,2150)"><rect x="-40" y="0" width="1640" height="66" fill="url(#cZ)"/></g>
</g>
<g font-size="28" fill="#f07a3a" text-anchor="middle">
<rect x="938" y="1848" width="22" height="33" fill="#fff"/><text x="949" y="1875">2</text>
<rect x="938" y="1890" width="22" height="33" fill="#fff"/><text x="949" y="1917">4</text>
<rect x="920" y="2045" width="22" height="33" fill="#fff"/><text x="931" y="2072">8</text>
<rect x="920" y="2085" width="22" height="33" fill="#fff"/><text x="931" y="2112">6</text>
</g>
<text x="248" y="1681" text-anchor="middle" font-size="62" font-weight="bold">(c)</text>
<text x="1776" y="1645" text-anchor="end" font-size="44" font-weight="bold" font-style="italic" textLength="500" lengthAdjust="spacingAndGlyphs">0930 UTC 16 Jun 2008</text>
<text x="1641" y="1702" text-anchor="end" font-size="42" font-weight="bold" font-style="italic" fill="#1b75bc" textLength="128" lengthAdjust="spacingAndGlyphs">R1.0B</text>
<rect x="1661" y="1657" width="106" height="87" fill="#fff" stroke="#333" stroke-width="2"/>
<path d="M1696,1688H1728" stroke="#666" stroke-width="2.5"/><path d="M1734,1688L1722,1682L1722,1694Z" fill="#666"/>
<text x="1714" y="1733" text-anchor="middle" font-size="32" fill="#666">10</text>
<path d="M163,1587H1793" stroke="#555" stroke-width="5"/>
<path d="M163,1586V2214M1793,1586V2214" stroke="#222" stroke-width="2.5"/>
<path d="M163,2214H1793" stroke="#222" stroke-width="3"/>
<g stroke="#222" stroke-width="2.5">
<path d="M163,2130h14M163,2046h14M163,1961h14M163,1877h14M163,1793h14M163,1709h14M163,1625h14M163,2172h7M163,2088h7M163,2004h7M163,1919h7M163,1835h7M163,1751h7M163,1667h7"/>
<path d="M344,2214v-12M525,2214v-12M706,2214v-12M887,2214v-12M1069,2214v-12M1250,2214v-12M1431,2214v-12M1612,2214v-12"/>
</g>
<g font-size="34" text-anchor="end">
<text x="148" y="2226">0</text><text x="148" y="2142">2</text><text x="148" y="2058">4</text><text x="148" y="1973">6</text><text x="148" y="1889">8</text><text x="148" y="1805">10</text><text x="148" y="1721">12</text><text x="148" y="1637">14</text>
</g>
<g font-size="27" text-anchor="middle">
<text x="163" y="2246">119.5E</text><text x="344" y="2246">119.6E</text><text x="525" y="2246">119.7E</text><text x="706" y="2246">119.8E</text><text x="887" y="2246">119.9E</text><text x="1069" y="2246">120E</text><text x="1250" y="2246">120.1E</text><text x="1431" y="2246">120.2E</text><text x="1612" y="2246">120.3E</text><text x="1793" y="2246">120.4E</text>
</g>
<text transform="translate(56,1888) rotate(-90)" text-anchor="middle" dominant-baseline="central" font-size="40" font-weight="bold" textLength="280" lengthAdjust="spacingAndGlyphs">Altitude (km)</text>
<g stroke="#222" stroke-width="1.5">
<polygon points="1823,1658 1835,1609 1847,1658" fill="#ff0000"/>
<rect x="1823" y="1658" width="24" height="47" fill="#ff8080"/>
<rect x="1823" y="1705" width="24" height="47" fill="#c0552b"/>
<rect x="1823" y="1752" width="24" height="47" fill="#eea000"/>
<rect x="1823" y="1799" width="24" height="47" fill="#ffdc00"/>
<rect x="1823" y="1846" width="24" height="47" fill="#f0e08c"/>
<rect x="1823" y="1893" width="24" height="47" fill="#80c090"/>
<rect x="1823" y="1940" width="24" height="47" fill="#00c070"/>
<rect x="1823" y="1987" width="24" height="47" fill="#006400"/>
<rect x="1823" y="2034" width="24" height="47" fill="#1e80c8"/>
<rect x="1823" y="2081" width="24" height="47" fill="#5a0096"/>
<rect x="1823" y="2128" width="24" height="47" fill="#a000a0"/>
<polygon points="1823,2175 1835,2220 1847,2175" fill="#fff"/>
</g>
<g font-size="19" fill="#333">
<text x="1856" y="1665">55</text><text x="1856" y="1712">50</text><text x="1856" y="1759">45</text><text x="1856" y="1806">40</text><text x="1856" y="1853">35</text><text x="1856" y="1900">30</text><text x="1856" y="1947">25</text><text x="1856" y="1994">20</text><text x="1856" y="2041">15</text><text x="1856" y="2088">10</text><text x="1856" y="2135">5</text><text x="1856" y="2182">0</text>
</g>
<text transform="translate(1922,1940) rotate(-90)" text-anchor="middle" dominant-baseline="central" font-size="38" font-weight="bold" textLength="341" lengthAdjust="spacingAndGlyphs">Reflectivity (dBZ)</text>

<!-- ================= PANEL D ================= -->
<g clip-path="url(#cD)">
<g transform="translate(163,2913) scale(18.111,-42.4)">
<polygon fill="#ffd89a" points="0.8,4.95 21,4.95 22,5.6 24,5.85 27,5.8 29,5.2 30,4.95 34,4.95 36,5.6 39,5.9 41,7.1 43,7.3 45.5,6.6 47,5.8 50,5.6 53,5.3 55,5.5 58,5.3 60,5.6 62,5.5 65,5.2 70,5.3 75,5.2 80,5.1 85,5.1 88.7,4.9 88.2,4.4 86.4,3.3 83.4,1.56 81.1,0.5 80.4,-1 10.1,-1 10.1,0 11.3,0.75 9.4,0.7 7.5,1.56 3.8,3.3"/>
<polygon fill="#fff" points="67,0 67.3,0.6 68.5,1.1 70,1.1 71.5,0.6 72,0"/>
<polygon fill="#fb9a24" points="17.7,2.2 18.5,3.8 20,4.8 22,5.4 25,5.4 28,5.0 30,4.3 31,3.0 32,1.5 31,0 21,0 20,0.6 18,1.2"/>
<polygon fill="#fb9a24" points="33,0 33.2,1.2 33.5,3.5 35,5.0 37.5,5.8 40,6.3 41.5,7.0 43,7.2 45,6.6 47,6.2 50,5.6 55,5.4 60,5.2 64,4.7 67,4.3 70,3.5 70.6,2.0 69,1.3 66,0.5 64,0"/>
<polygon fill="#ffd89a" points="55.5,0 56,1.6 57,2.4 60,2.4 62.6,1.8 63,0.9 64,0"/>
<polygon fill="#ffd89a" points="31.5,0 31.5,1.5 32.5,3.0 33.5,3.6 34,2.5 34,0"/>
<polygon fill="#ffd89a" points="30.3,4.8 30.8,3.8 31.6,3.6 32.2,4.3 31.8,4.9"/>
<polygon fill="#ffd89a" points="24,0 24.5,0.9 26,1.1 27,0.5 27,0"/>
<polygon fill="#c95a00" points="21,2.0 21.5,3.5 22.5,4.6 24.5,5.0 27,4.8 29,4.3 29.3,3.0 28,2.0 24.5,1.6 22,1.6"/>
<polygon fill="#c95a00" points="33.8,1.3 34,2.5 35,3.9 36.6,3.6 37.6,2.3 37,1.3 35.5,1.0"/>
<polygon fill="#c95a00" points="39.2,0 39.4,3 39.8,5.5 40.8,6.5 42,7.0 44,6.8 45.5,6.0 47.5,4.4 51,4.4 56,4.0 57,3.3 54,2.7 50,2.8 48.5,2.0 49,0"/>
<polygon fill="#c95a00" points="49.6,0 49.8,1.2 51,1.9 53.5,1.8 55.6,0.8 55.3,0"/>
<ellipse cx="63.8" cy="3.65" rx="2.2" ry="0.75" fill="#c95a00"/>
<polygon fill="#ff3434" points="39.8,0.2 39.9,2 40,4 40.5,5.8 41.5,6.2 42.5,6.0 44,5.3 46,5.0 47,4.0 47.7,2.5 47.2,1.2 45,0.5 42,0.2"/>
</g>
<g class="nss" transform="translate(163,2913) scale(18.111,-42.4)" fill="none" stroke="#f4b6f0" stroke-width="2" stroke-linejoin="round">
<polygon points="20,10.6 25.3,10.6 25.6,10.85 25.3,11.1 20.2,11.1 19.9,10.85"/>
<polygon points="18.3,10.3 27.5,10.3 28,10.9 27.5,11.5 18.5,11.5 18,10.9"/>
<polygon points="16.8,9.9 28.3,9.9 29,10.9 28.5,11.9 17,11.9 16.3,10.9"/>
<polyline points="0,12.1 6,12.0 11,11.9 12.5,12.4 14,12.8 29.5,12.7 31,11.8 31,9.6 29,9.2 14,9.2 11.5,10.0 9,10.8 5,11.2 0,11.3"/>
<polyline points="31,9.0 32,10.5 33.5,12.3 36,13.3 42,14.0 48,14.3 53,14.4 60,14.3 66,14.2 70,14.0 75,13.8 80,14.0 90,14.1"/>
<polyline points="33,9.5 34.5,11.5 37,12.7 42,13.4 50,13.6 58,13.5 63,13.2 64.5,12.5 65.5,11.0 66,9.5 65.5,8.8"/>
<polyline points="34.5,9.8 36,11.6 40,12.6 50,12.9 60,12.8 63,12.2 64,11 64.3,9.5 63.5,8.5 61,8.4"/>
<polyline points="36,10.0 37.5,11.6 42,12.2 50,12.3 58,12.2 61.5,11.5 62.5,10.4 62.5,9.0 60,8.5 57,8.6"/>
<polyline points="37.5,10.5 40,11.6 50,11.8 58,11.5 60.5,10.6 60.5,9.3 58,8.9"/>
<polyline points="90,13.7 80,13.6 76,13.4 74.5,12.6 74.2,11.4 75,10.0 77,9.6 83,9.5 90,9.4"/>
<polyline points="90,13.3 80,13.2 77,12.9 75.8,12.2 75.6,11.0 76.5,9.7 79,9.3 90,9.1"/>
<polyline points="90,12.9 81,12.8 78,12.5 77,11.9 77,10.8 78,9.6 80,9.0 90,8.8"/>
<polyline points="90,12.5 82,12.4 79.5,12 78.5,11.5 78.5,10.5 79.5,9.5 82,8.8 90,8.5"/>
<ellipse cx="70" cy="9.8" rx="0.7" ry="0.45"/>
</g>
<g class="nss" transform="translate(163,2913) scale(18.111,-42.4)" fill="none" stroke="#1aa3e8" stroke-width="4" stroke-linejoin="round">
<polyline points="0,7.8 3,8.6 6.8,9.2 8.3,9.6 11.3,10.55 15.8,10.8 17.7,10.8 19.2,10.3 20.3,9.5 24.8,9.6 29.3,10.0 30.4,11.4 31.9,11.6 33.4,11.4 33.8,10.55 31.9,9.5 33,8.9 36.8,8.5 39.8,8.7 40.6,9.4 39.8,10.4 42,11.7 43.6,12.1 45.8,11.9 48.8,11.4 52.6,11.4 57.1,11.1 61.6,11.0 63.1,11.4 66.1,12.2 67.6,12.4 74.4,12.3 75.1,11.9 75.9,9.9 78.1,9.5 83.4,9.2 90,9.6"/>
<polyline points="0,9.4 3.8,9.4 6.8,9.1 9.8,8.7 10.9,8.25 9,7.55 4.5,7.3 0,7.27"/>
<polyline points="12.8,6.3 13.5,6.9 15.8,7.15 18,7.0 19.5,6.5 21,6.05 24,5.77 31.6,5.65 36,5.7 39,5.9"/>
<polyline points="24,7.0 25,7.2 30,7.25 36,7.1 38.5,7.5 39.8,8.6"/>
<polygon points="41.3,8.2 42,9.6 43.6,10.55 45,10.6 47.3,10.2 50.3,9.4 54,9.2 56.3,8.9 57.9,7.9 58.6,7.1 59,6.2 57.9,5.6 53.3,5.5 48.8,5.6 46.6,6.0 44.5,6.8 42.5,7.5"/>
<polygon points="40,5.8 41,6.3 43,6.4 45,6.2 46.5,5.8 45,5.3 43,5.1 41,5.3"/>
<ellipse cx="78.5" cy="6.05" rx="1.0" ry="0.3"/>
</g>
<polyline class="nss" transform="translate(163,2913) scale(18.111,-42.4)" fill="none" stroke="#1aa3e8" stroke-width="3" points="0,5.25 6,5.07 21,5.0 39,5.07 45,5.0 58.6,5.2 70,5.1 81,5.13 90,5.25"/>
<path d="M176,2703L851,2703L897,2686L933,2684L960,2702L1793,2706" fill="none" stroke="#222" stroke-width="3" stroke-dasharray="24 10"/>
<g class="nss" transform="translate(163,2913) scale(18.111,-42.4)" fill="none" stroke="#188a18" stroke-width="3" stroke-linejoin="round">
<polygon points="34.6,5.25 36.8,6.17 39.8,7.32 40.6,8.94 41.5,10.67 42.8,11.25 45.1,11.25 47.3,10.67 49.6,9.63 53.3,8.94 57.1,8.0 60.1,7.1 63.1,6.29 66.1,6.06 71.4,6.17 73.6,6.8 77.4,6.75 81.1,6.17 83.8,5.0 81.1,4.6 75.1,4.73 69.1,4.6 63.1,4.33 58.6,3.98 54.1,3.4 50.3,2.48 48.1,1.67 47,1.61 46.2,2.13 45.1,2.83 43.6,3.75 42.8,4.33 40.6,4.56 39,4.67 35.3,5.0"/>
<polygon points="39,5.71 40.6,7.32 41.3,8.94 42,10.1 43.6,10.55 45.1,10.55 47.3,9.98 49.6,8.94 53.3,8.25 56.3,7.32 58.6,6.17 59.4,5.48 57.1,4.9 52.6,4.56 48.8,3.98 48.1,3.17 46.6,2.83 45.1,3.4 43.6,4.33 42,4.9 39.8,5.25"/>
<polygon points="39.8,6.06 40.9,7.55 42,8.94 43.6,9.98 44.7,10.1 46.6,9.4 48.8,8.36 51.8,7.55 54.8,6.63 55.6,5.94 54.8,5.36 51.1,5.25 48.8,5.13 46.6,5.02 45.1,4.67 43.6,5.02 42,5.25"/>
<polygon points="42,7.32 43.6,7.9 45.1,8.25 46.6,7.79 48.1,7.1 49.6,6.63 51.8,5.94 53.3,5.36 51.1,5.36 48.1,5.48 45.8,5.25 44.3,5.48 42.8,6.17"/>
<polygon points="10.5,5.36 13.5,6.17 18,6.4 21,6.52 24.8,6.63 27,6.29 29.3,5.82 30,5.25 29.7,4.9 26.3,4.56 21.8,4.38 19.5,4.44 15,4.67 12,4.9"/>
<polygon points="19.9,5.25 20.3,5.71 21.8,5.94 23.3,5.82 24,5.48 23.3,5.13 21.8,5.02"/>
</g>
</g>
<g font-size="27">
<text x="571" y="2641" text-anchor="middle" fill="#188a18">0.1</text>
<rect x="534" y="2682" width="40" height="28" fill="#fff"/><text x="554" y="2706" text-anchor="middle" fill="#188a18">0.5</text>
<text x="969" y="2506" text-anchor="middle" fill="#188a18">1</text>
<text x="1007" y="2592" text-anchor="middle" fill="#188a18">2.5</text>
<text x="1347" y="2665" text-anchor="middle" fill="#188a18">0.1</text>
<rect x="1007" y="2773" width="40" height="28" fill="#fff"/><text x="1027" y="2797" text-anchor="middle" fill="#188a18">0.5</text>
<text x="1027" y="2675" text-anchor="middle" fill="#1aa3e8">0.5</text>
<text x="742" y="2433" text-anchor="middle" fill="#1aa3e8">0.1</text>
<text x="1136" y="2315" text-anchor="middle" fill="#f4b6f0">0.03</text>
<text x="1232" y="2538" text-anchor="middle" fill="#f4b6f0">0.06</text>
<text x="361" y="2712" text-anchor="middle" fill="#111" font-size="24">0°C</text>
</g>
<text x="248" y="2379" text-anchor="middle" font-size="64" font-weight="bold">(d)</text>
<text x="1772" y="2337" text-anchor="end" font-size="44" font-weight="bold" font-style="italic" textLength="498" lengthAdjust="spacingAndGlyphs">0930 UTC 16 Jun 2008</text>
<text x="1772" y="2398" text-anchor="end" font-size="42" font-weight="bold" font-style="italic" fill="#1b75bc" textLength="130" lengthAdjust="spacingAndGlyphs">R1.0B</text>
<path d="M163,2282H1793" stroke="#222" stroke-width="2.5"/>
<path d="M163,2282V2913M1793,2282V2913" stroke="#222" stroke-width="2.5"/>
<path d="M163,2913H1793" stroke="#777" stroke-width="5"/>
<g stroke="#222" stroke-width="2.5">
<path d="M163,2828h14M163,2743h14M163,2659h14M163,2574h14M163,2489h14M163,2404h14M163,2319h14M163,2871h7M163,2786h7M163,2701h7M163,2616h7M163,2531h7M163,2447h7M163,2362h7"/>
<path d="M344,2913v12M525,2913v12M706,2913v12M887,2913v12M1069,2913v12M1250,2913v12M1431,2913v12M1612,2913v12"/>
</g>
<g font-size="34" text-anchor="end">
<text x="148" y="2925">0</text><text x="148" y="2840">2</text><text x="148" y="2755">4</text><text x="148" y="2671">6</text><text x="148" y="2586">8</text><text x="148" y="2501">10</text><text x="148" y="2416">12</text><text x="148" y="2331">14</text>
</g>
<g font-size="27" text-anchor="middle">
<text x="163" y="2948">119.5E</text><text x="344" y="2948">119.6E</text><text x="525" y="2948">119.7E</text><text x="706" y="2948">119.8E</text><text x="887" y="2948">119.9E</text><text x="1069" y="2948">120E</text><text x="1250" y="2948">120.1E</text><text x="1431" y="2948">120.2E</text><text x="1612" y="2948">120.3E</text><text x="1793" y="2948">120.4E</text>
</g>
<text x="980" y="2993" text-anchor="middle" font-size="40" font-weight="bold" textLength="300" lengthAdjust="spacingAndGlyphs">Longitude (°E)</text>
<text transform="translate(56,2586) rotate(-90)" text-anchor="middle" dominant-baseline="central" font-size="40" font-weight="bold" textLength="276" lengthAdjust="spacingAndGlyphs">Altitude (km)</text>
<g stroke="#222" stroke-width="1.5">
<polygon points="1838,2662 1855,2599 1872,2662" fill="#ff3030"/>
<rect x="1838" y="2662" width="34" height="62" fill="#c85a00"/>
<rect x="1838" y="2724" width="34" height="64" fill="#fb9a24"/>
<rect x="1838" y="2788" width="34" height="62" fill="#ffd89a"/>
<polygon points="1838,2850 1855,2913 1872,2850" fill="#fff"/>
</g>
<g font-size="25" fill="#444">
<text x="1880" y="2671">2.5</text><text x="1880" y="2733">1</text><text x="1880" y="2797">0.5</text><text x="1880" y="2859">0.1</text>
</g>
<text transform="translate(1968,2594) rotate(-90)" text-anchor="middle" dominant-baseline="central" font-size="42" font-weight="bold" textLength="408" lengthAdjust="spacingAndGlyphs">Mixing ratio (g kg<tspan font-size="28" dy="-14">−1</tspan><tspan dy="14">)</tspan></text>
</svg>
</body></html>
